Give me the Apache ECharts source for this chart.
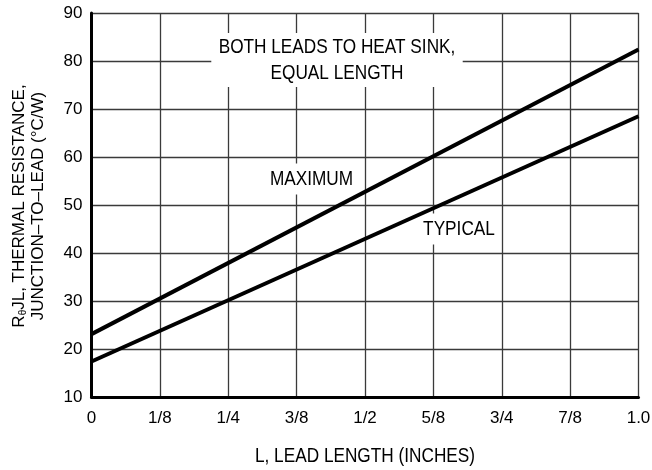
<!DOCTYPE html>
<html>
<head>
<meta charset="utf-8">
<script src="https://cdn.jsdelivr.net/npm/echarts@6/dist/echarts.min.js"></script>
<style>
html,body{margin:0;padding:0;background:#fff;}
#c{width:652px;height:470px;}
</style>
</head>
<body>
<div id="c"></div>
<script>
// Data
var xTickValues = [0, 0.125, 0.25, 0.375, 0.5, 0.625, 0.75, 0.875, 1.0];
var xTickLabels = ["0", "1/8", "1/4", "3/8", "1/2", "5/8", "3/4", "7/8", "1.0"];
var leadLength = [0, 1.0];
var maximumR = [23.1, 82.4];
var typicalR = [17.4, 68.5];

var FONT = '"Liberation Sans", Arial, Helvetica, sans-serif';
var NARROW = 0.82;

function pairs(xs, ys) { return xs.map(function (x, i) { return [x, ys[i]]; }); }
function tickLabel(v) {
  for (var i = 0; i < xTickValues.length; i++) {
    if (Math.abs(xTickValues[i] - v) < 1e-9) return xTickLabels[i];
  }
  return '';
}

var chart = echarts.init(document.getElementById('c'), null, { renderer: 'canvas' });
var gridLine = { show: true, lineStyle: { color: '#3a3a3a', width: 1.3 } };
chart.setOption({
  backgroundColor: '#fff',
  animation: false,
  grid: { left: 91.5, right: 13.5, top: 13, bottom: 73, containLabel: false, outerBoundsMode: 'none' },
  xAxis: {
    type: 'value', min: 0, max: 1, interval: 0.125,
    axisLine: { show: true, onZero: false, lineStyle: { color: '#000', width: 3 } },
    axisTick: { show: false },
    splitLine: gridLine,
    axisLabel: { formatter: tickLabel, color: '#000', fontFamily: FONT, fontSize: 17, margin: 13 }
  },
  yAxis: {
    type: 'value', min: 10, max: 90, interval: 10,
    axisLine: { show: true, onZero: false, lineStyle: { color: '#000', width: 3 } },
    axisTick: { show: false },
    splitLine: gridLine,
    axisLabel: { color: '#000', fontFamily: FONT, fontSize: 17, margin: 9 }
  },
  graphic: [
    {
      type: 'text', x: 28.5, y: 206, rotation: Math.PI / 2,
      style: {
        text: '{n|R}{sub|θ}{n|JL, THERMAL RESISTANCE,}\n{n|JUNCTION–TO–LEAD (°C/W)}',
        font: '17px ' + FONT, fill: '#000', align: 'center', verticalAlign: 'middle',
        rich: {
          n: { fontSize: 17, fontFamily: FONT, lineHeight: 19, verticalAlign: 'middle' },
          sub: { fontSize: 10, fontFamily: FONT, lineHeight: 4, verticalAlign: 'bottom' }
        }
      },
      z: 10
    },
    {
      type: 'text', x: 365, y: 456, scaleX: NARROW,
      style: {
        text: 'L, LEAD LENGTH (INCHES)',
        font: '21px ' + FONT, fill: '#000', align: 'center', verticalAlign: 'middle'
      },
      z: 10
    },
    {
      type: 'text', x: 337, y: 60, scaleX: NARROW,
      style: {
        text: 'BOTH LEADS TO HEAT SINK,\nEQUAL LENGTH',
        font: '21px ' + FONT, fill: '#000', align: 'center', verticalAlign: 'middle',
        lineHeight: 26, backgroundColor: '#fff', padding: [1, 9, 1, 9]
      },
      z: 10
    },
    {
      type: 'text', x: 311.5, y: 179, scaleX: NARROW,
      style: { text: 'MAXIMUM', font: '21px ' + FONT, fill: '#000', align: 'center', verticalAlign: 'middle',
        backgroundColor: '#fff', padding: [5, 4, 5, 4] },
      z: 10
    },
    {
      type: 'text', x: 459, y: 229, scaleX: NARROW,
      style: { text: 'TYPICAL', font: '21px ' + FONT, fill: '#000', align: 'center', verticalAlign: 'middle',
        backgroundColor: '#fff', padding: [5, 4, 5, 4] },
      z: 10
    }
  ],
  series: [
    { name: 'MAXIMUM', type: 'line', data: pairs(leadLength, maximumR), showSymbol: false,
      lineStyle: { color: '#000', width: 4 }, z: 20 },
    { name: 'TYPICAL', type: 'line', data: pairs(leadLength, typicalR), showSymbol: false,
      lineStyle: { color: '#000', width: 4 }, z: 20 }
  ]
});
</script>
</body>
</html>
